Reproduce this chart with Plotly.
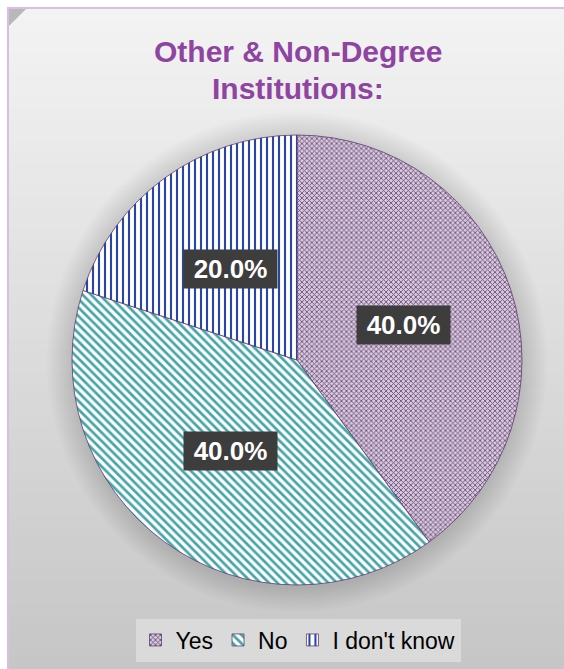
import math
import plotly.graph_objects as go

# Survey answers for other & non-degree institutions
categories = ["Yes", "No", "I don't know"]
values = [2, 2, 1]
title_lines = ["Other & Non-Degree", "Institutions:"]

W, H = 564, 669
CX, CY, R = 297, 360, 225          # pie centre / radius in pixels

FONT = "Liberation Sans, Arial, sans-serif"


def px_x(x):
    return x / W


def px_y(y):
    return 1 - y / H


fig = go.Figure()

fig.add_trace(go.Pie(
    labels=categories,
    values=values,
    sort=False,
    direction="clockwise",
    rotation=0,
    textinfo="none",
    hoverinfo="label+percent",
    domain=dict(x=[px_x(CX - R), px_x(CX + R)], y=[px_y(CY + R), px_y(CY - R)]),
    marker=dict(
        colors=["#a48cae", "#ffffff", "#ffffff"],
        line=dict(color="#5e3c6e", width=0.8),
        pattern=dict(
            shape=["x", "\\", "|"],
            fgcolor=["#6c5079", "#45a5a8", "#2a45a8"],
            bgcolor=["#d8c9de", "#ffffff", "#ffffff"],
            size=[3.5, 6, 6],
            solidity=[0.45, 0.45, 0.35],
        ),
    ),
))

shapes = []

# grey vertical gradient backdrop
top = (243, 243, 243)
bot = (198, 198, 198)
n_bands = 60
y_start, y_end = 9, H
for i in range(n_bands):
    t = i / (n_bands - 1)
    c = tuple(round(top[k] + (bot[k] - top[k]) * t) for k in range(3))
    y0 = y_start + (y_end - y_start) * i / n_bands
    y1 = y_start + (y_end - y_start) * (i + 1) / n_bands + 1
    shapes.append(dict(
        type="rect", xref="paper", yref="paper", layer="below",
        x0=px_x(9), x1=1.05, y0=px_y(y1) - (0.05 if i == n_bands - 1 else 0),
        y1=px_y(y0),
        fillcolor=f"rgb{c}", line=dict(width=0),
    ))

# white page margin above and left of the frame
shapes.append(dict(
    type="rect", xref="paper", yref="paper", layer="below",
    x0=-0.05, x1=1.05, y0=px_y(8), y1=1.05,
    fillcolor="#ffffff", line=dict(width=0),
))
shapes.append(dict(
    type="rect", xref="paper", yref="paper", layer="below",
    x0=-0.05, x1=px_x(8), y0=-0.05, y1=1.05,
    fillcolor="#ffffff", line=dict(width=0),
))

# soft shadow around the pie
for k in range(10, 0, -1):
    r = R + 2.5 * k
    shapes.append(dict(
        type="circle", xref="paper", yref="paper", layer="below",
        x0=px_x(CX - r), x1=px_x(CX + r),
        y0=px_y(CY + r + 2), y1=px_y(CY - r + 2),
        fillcolor="rgba(0,0,0,0.012)", line=dict(width=0),
    ))

# folded corner at the top left
shapes.append(dict(
    type="path", xref="paper", yref="paper",
    path=f"M {px_x(9)},{px_y(9)} L {px_x(26)},{px_y(9)} L {px_x(9)},{px_y(26)} Z",
    fillcolor="#b8b8b8", line=dict(width=0),
))

# lilac frame edges (left and top)
shapes.append(dict(
    type="line", xref="paper", yref="paper",
    x0=px_x(8), x1=px_x(8), y0=-0.05, y1=px_y(7),
    line=dict(color="#dcbde7", width=2),
))
shapes.append(dict(
    type="line", xref="paper", yref="paper",
    x0=px_x(7), x1=1.05, y0=px_y(8), y1=px_y(8),
    line=dict(color="#dcbde7", width=2),
))

annotations = []

# two-line heading
for text, yc in zip(title_lines, [52, 88]):
    annotations.append(dict(
        x=px_x(298), y=px_y(yc), xref="paper", yref="paper",
        text=f"<b>{text}</b>", showarrow=False,
        xanchor="center", yanchor="middle",
        font=dict(family=FONT, size=30, color="#8e44a0"),
    ))

# percentage labels placed at half radius on each slice's mid angle
total = sum(values)
acc = 0
for cat, v in zip(categories, values):
    mid = (acc + v / 2) / total * 2 * math.pi
    acc += v
    lx = CX + 0.5 * R * math.sin(mid)
    ly = CY - 0.5 * R * math.cos(mid)
    annotations.append(dict(
        x=px_x(lx), y=px_y(ly), xref="paper", yref="paper",
        text=f"<b>{v / total * 100:.1f}%</b>",
        showarrow=False,
        font=dict(family=FONT, size=26, color="#ffffff"),
        bgcolor="#3d3d3d",
        borderpad=4,
        width=85, height=30,
        xanchor="center", yanchor="middle",
    ))

fig.update_layout(
    autosize=True,
    height=H,
    margin=dict(l=0, r=0, t=0, b=0),
    paper_bgcolor="#c8c8c8",
    plot_bgcolor="#c8c8c8",
    legend=dict(
        orientation="h",
        x=px_x(298), xanchor="center",
        y=px_y(640), yanchor="middle",
        bgcolor="#dadada",
        font=dict(family=FONT, size=23, color="#000000"),
        itemwidth=30,
        traceorder="normal",
    ),
    shapes=shapes,
    annotations=annotations,
)

# keep the page free of margins and scrollbars
page_css = (
    "document.documentElement.style.overflow='hidden';"
    "document.body.style.margin='0';"
    "document.body.style.overflow='hidden';"
)
fig.write_html("out.html", post_script=page_css,
               default_width="100%", default_height=f"{H}px")
